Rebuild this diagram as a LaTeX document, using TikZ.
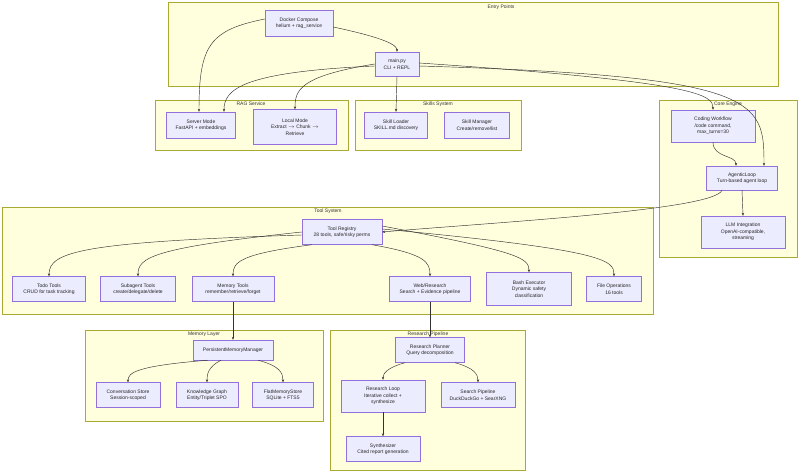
\documentclass[tikz,border=0pt]{standalone}
\usepackage{fontspec}
\setmainfont{Liberation Sans}
\usetikzlibrary{arrows.meta}
\definecolor{cfill}{HTML}{FFFFDE}
\definecolor{cline}{HTML}{AAAA33}
\definecolor{nfill}{HTML}{ECECFF}
\definecolor{nline}{HTML}{9370DB}
\definecolor{eline}{HTML}{333333}
\begin{document}
\begin{tikzpicture}[x=1pt,y=-1pt,
  clus/.style={draw=cline,fill=cfill,line width=0.4pt},
  clab/.style={font=\fontsize{5}{6}\selectfont,text=black!80},
  box/.style={draw=nline,fill=nfill,line width=0.4pt,align=center,inner sep=0pt,
    font=\fontsize{5}{6.5}\selectfont,text=black!85},
  ed/.style={draw=eline,line width=0.45pt,-{Stealth[length=3pt,width=2.4pt]}}]
\useasboundingbox (0,0) rectangle (799,473);
% clusters
\draw[clus] (168,2) rectangle (778,86);
\node[clab] (lEP) at (501,7) {Entry Points};
\draw[clus] (155,100) rectangle (348,150);
\node[clab] (lRAG) at (251,104) {RAG Service};
\draw[clus] (355,100) rectangle (521,150);
\node[clab] (lSK) at (438,104) {Skills System};
\draw[clus] (659,100) rectangle (797,257);
\node[clab] (lCE) at (728,104) {Core Engine};
\draw[clus] (2,207) rectangle (653,314);
\node[clab] (lTS) at (328,211) {Tool System};
\draw[clus] (85,330) rectangle (323,421);
\node[clab] (lML) at (204,334) {Memory Layer};
\draw[clus] (330,330) rectangle (525,470);
\node[clab] (lRP) at (428,334) {Research Pipeline};
% nodes
\node[box,minimum width=68,minimum height=26] (docker) at (299,23) {Docker Compose\\helium + rag\_service};
\node[box,minimum width=44,minimum height=24] (main) at (397,64) {main.py\\CLI + REPL};
\node[box,minimum width=69,minimum height=26] (server) at (201,125) {Server Mode\\FastAPI + embeddings};
\node[box,minimum width=83,minimum height=35] (local) at (295,127) {Local Mode\\Extract $\rightarrow$ Chunk $\rightarrow$\\Retrieve};
\node[box,minimum width=63,minimum height=26] (sload) at (396,125) {Skill Loader\\SKILL.md discovery};
\node[box,minimum width=65,minimum height=26] (sman) at (477,125) {Skill Manager\\Create/remove/list};
\node[box,minimum width=84,minimum height=32] (coding) at (713,126) {Coding Workflow\\/code command,\\max\_turns=30};
\node[box,minimum width=71,minimum height=24] (agent) at (742,178) {AgenticLoop\\Turn-based agent loop};
\node[box,minimum width=84,minimum height=32] (llm) at (743,232) {LLM Integration\\OpenAI-compatible,\\streaming};
\node[box,minimum width=80,minimum height=25] (reg) at (342,232) {Tool Registry\\28 tools, safe/risky perms};
\node[box,minimum width=73,minimum height=25] (todo) at (49,289) {Todo Tools\\CRUD for task tracking};
\node[box,minimum width=75,minimum height=25] (sub) at (138,289) {Subagent Tools\\create/delegate/delete};
\node[box,minimum width=82,minimum height=25] (mem) at (233,289) {Memory Tools\\remember/retrieve/forget};
\node[box,minimum width=81,minimum height=25] (web) at (430,289) {Web/Research\\Search + Evidence pipeline};
\node[box,minimum width=85,minimum height=33] (bash) at (529,289) {Bash Executor\\Dynamic safety\\classification};
\node[box,minimum width=55,minimum height=25] (file) at (614,289) {File Operations\\16 tools};
\node[box,minimum width=80,minimum height=20] (pmm) at (233,350) {PersistentMemoryManager};
\node[box,minimum width=64,minimum height=25] (conv) at (128,395) {Conversation Store\\Session-scoped};
\node[box,minimum width=62,minimum height=25] (kg) at (207,395) {Knowledge Graph\\Entity/Triplet SPO};
\node[box,minimum width=61,minimum height=25] (flat) at (283,395) {FlatMemoryStore\\SQLite + FTS5};
\node[box,minimum width=69,minimum height=25] (plan) at (430,350) {Research Planner\\Query decomposition};
\node[box,minimum width=84,minimum height=32] (loop) at (383,396) {Research Loop\\Iterative collect +\\synthesize};
\node[box,minimum width=74,minimum height=25] (spipe) at (478,395) {Search Pipeline\\DuckDuckGo + SearXNG};
\node[box,minimum width=74,minimum height=25] (synth) at (383,449) {Synthesizer\\Cited report generation};
% edges
\draw[ed] ([yshift=4pt]docker.west) .. controls (210,30) and (199,45) .. ([xshift=-2pt]server.north);
\draw[ed] ([yshift=-4pt]docker.east) .. controls (385,38) and (397,45) .. (main.north);
\draw[ed] ([yshift=-2pt]main.west) .. controls (240,72) and (224,90) .. ([xshift=23pt]server.north);
\draw[ed] ([yshift=0pt]main.west) .. controls (300,76) and (295,90) .. (local.north);
\draw[ed] (main.south) -- (sload.north);
\draw[ed] ([yshift=1pt]main.east) .. controls (700,82) and (713,95) .. (coding.north);
\draw[ed] ([yshift=-2pt]main.east) .. controls (760,76) and (764,100) .. ([xshift=22pt]agent.north);
\draw[ed] (coding.south) .. controls (713,158) and (736,155) .. ([xshift=-6pt]agent.north);
\draw[ed] ([xshift=-20pt]agent.south) .. controls (715,210) and (500,222) .. (reg.east);
\draw[ed] (agent.south) -- (llm.north);
\draw[ed] ([yshift=-3pt]reg.west) .. controls (80,242) and (49,252) .. (todo.north);
\draw[ed] ([yshift=0pt]reg.west) .. controls (150,248) and (138,258) .. (sub.north);
\draw[ed] ([xshift=-30pt]reg.south) .. controls (240,254) and (233,262) .. (mem.north);
\draw[ed] ([xshift=30pt]reg.south) .. controls (425,254) and (430,262) .. (web.north);
\draw[ed] ([yshift=6pt]reg.east) .. controls (520,252) and (529,258) .. (bash.north);
\draw[ed] ([yshift=3pt]reg.east) .. controls (605,250) and (614,260) .. (file.north);
\draw[ed] (mem.south) -- (pmm.north);
\draw[ed] (web.south) -- (plan.north);
\draw[ed] ([xshift=-25pt]pmm.south) .. controls (135,366) and (128,373) .. (conv.north);
\draw[ed] ([xshift=-12pt]pmm.south) .. controls (208,367) and (207,374) .. (kg.north);
\draw[ed] ([xshift=25pt]pmm.south) .. controls (280,366) and (283,373) .. (flat.north);
\draw[ed] ([xshift=-25pt]plan.south) .. controls (386,368) and (383,374) .. (loop.north);
\draw[ed] ([xshift=25pt]plan.south) .. controls (474,368) and (478,374) .. (spipe.north);
\draw[ed] (loop.south) -- (synth.north);
\end{tikzpicture}
\end{document}
